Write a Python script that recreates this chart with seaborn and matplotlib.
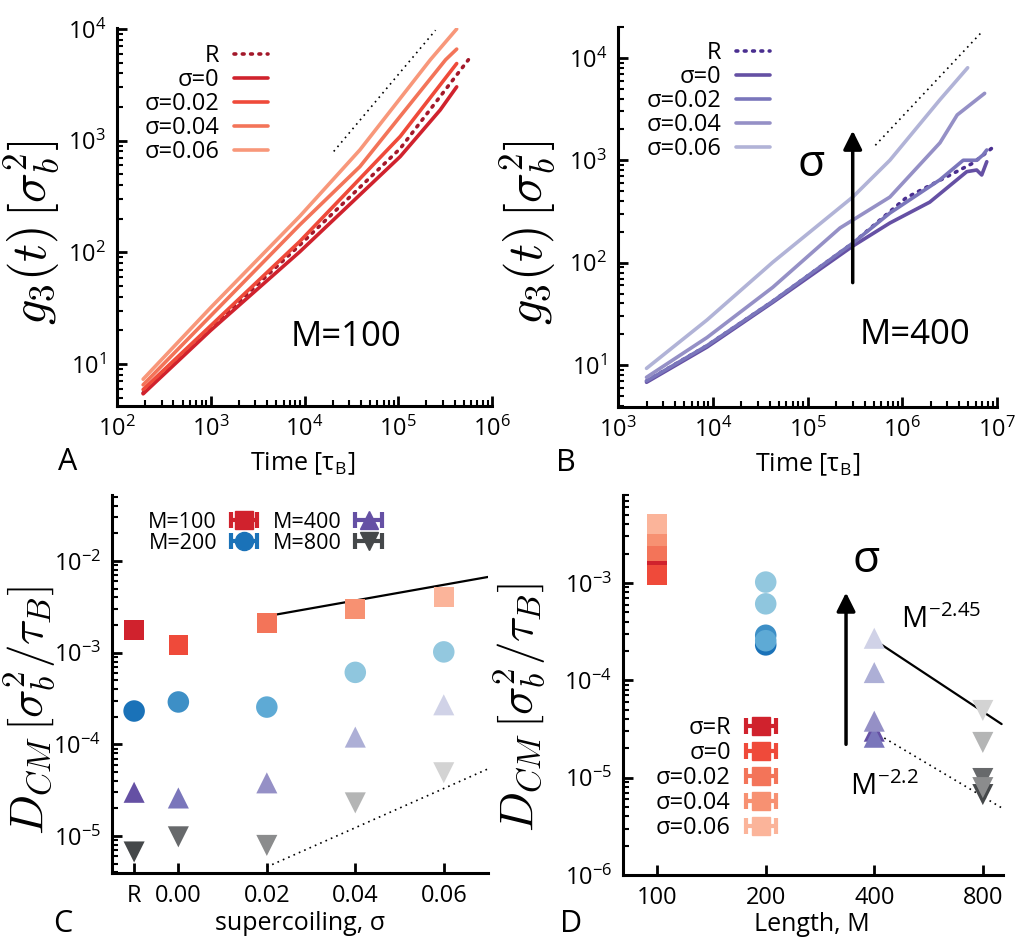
import numpy as np
import pandas as pd
import matplotlib
matplotlib.use("Agg")
import matplotlib.pyplot as plt
from matplotlib.ticker import FuncFormatter, LogLocator, NullLocator, FixedLocator
from matplotlib.legend_handler import HandlerErrorbar
from matplotlib.container import ErrorbarContainer
import seaborn as sns

# ---------------- data ----------------
sigma_labels = ["R", "0", "0.02", "0.04", "0.06"]

# Panel A (M=100): g3(t)
A_t_R = [190, 1e3, 8.9e3, 1.05e5, 5.6e5]
A_g_R = [5.5, 21, 116, 850, 5300]
A_t_0 = [190, 1e3, 8.9e3, 1.05e5, 2.8e5, 4.2e5]
A_g_0 = [5.4, 20, 101, 720, 1880, 3030]
A_t_002 = [190, 1e3, 8.9e3, 1.05e5, 4.2e5]
A_g_002 = [5.9, 22, 125, 1090, 4900]
A_t_004 = [190, 1e3, 8.9e3, 3.9e4, 1e5, 3.2e5, 4.2e5]
A_g_004 = [6.5, 27, 176, 585, 1570, 5300, 6600]
A_t_006 = [190, 1e3, 8.9e3, 3.9e4, 1e5, 2.2e5, 4.2e5]
A_g_006 = [7.3, 32, 210, 826, 2270, 5300, 10000]
A_guide_t = [2.05e4, 2.5e5]
A_guide_g = [800, 9750]

# Panel B (M=400): g3(t)
B_t_R = [2e3, 8.7e3, 4.3e4, 3e5, 1.1e6, 5.6e6, 8.9e6]
B_g_R = [7.0, 15.5, 42, 155, 430, 940, 1320]
B_t_0 = [2e3, 8.7e3, 4.3e4, 3e5, 7.4e5, 1.95e6, 4.8e6, 6.1e6, 6.9e6, 7.8e6]
B_g_0 = [6.8, 15, 41, 145, 244, 390, 774, 803, 718, 968]
B_t_002 = [2e3, 8.7e3, 4.3e4, 3e5, 7.4e5, 2.5e6, 4.4e6, 6.1e6, 7.1e6, 7.8e6]
B_g_002 = [7.0, 15.5, 42, 155, 305, 645, 1000, 1000, 1125, 1260]
B_t_004 = [2e3, 8.7e3, 4.3e4, 2.2e5, 7.4e5, 2.5e6, 3.8e6, 7.4e6]
B_g_004 = [7.6, 18.6, 57.5, 218, 437, 1480, 2770, 4500]
B_t_006 = [2e3, 8.7e3, 4.3e4, 3e5, 7.4e5, 2.5e6, 4.9e6]
B_g_006 = [9.3, 27.6, 101, 437, 1000, 3900, 8000]
B_guide_t = [5.2e5, 6.8e6]
B_guide_g = [1400, 17600]
B_arrow_t = 3e5
B_arrow_g = [60, 2070]

# Panels C, D: D_CM per sigma (R, 0, 0.02, 0.04, 0.06)
sigma_values = [-0.01, 0.0, 0.02, 0.04, 0.06]   # "R" drawn left of 0.00
sigma_ticklabels = ["R", "0.00", "0.02", "0.04", "0.06"]
M_values = [100, 200, 400, 800]
D_M100 = [1.77e-3, 1.21e-3, 2.1e-3, 3.0e-3, 4.05e-3]
D_M200 = [2.31e-4, 2.9e-4, 2.55e-4, 6.1e-4, 1.02e-3]
D_M400 = [3.0e-5, 2.6e-5, 3.8e-5, 1.2e-4, 2.7e-4]
D_M800 = [6.7e-6, 9.8e-6, 7.9e-6, 2.3e-5, 4.9e-5]
C_solid_x = [0.02, 0.07]
C_solid_y = [2.5e-3, 6.7e-3]
C_dot_x = [0.02, 0.07]
C_dot_y = [4.6e-6, 5.4e-5]
D_solid_M = [400, 902]
D_solid_y = [2.6e-4, 3.55e-5]
D_dot_M = [400, 902]
D_dot_y = [2.94e-5, 4.9e-6]
D_arrow_M = 334
D_arrow_y = [2.06e-5, 8.5e-4]

# ---------------- style ----------------
sns.set_theme(style="ticks")
plt.rcParams["font.family"] = ["Open Sans", "DejaVu Sans"]
plt.rcParams["mathtext.fontset"] = "cm"
for k in ["text.color", "axes.labelcolor", "xtick.color", "ytick.color", "axes.edgecolor"]:
    plt.rcParams[k] = "black"

reds_line = ["#a3182a", "#d0222d", "#ef4a3a", "#f37459", "#f8977a"]
purp_line = ["#4a2f90", "#6550a4", "#7a76bb", "#9590c6", "#b1b3d7"]
reds = ["#d0222d", "#ef4a3a", "#f37459", "#f79172", "#fbb49a"]
blues = ["#1a72b8", "#3d8fc6", "#5eaad5", "#8fc6de", "#93c8df"]
purples = ["#6550a4", "#7a76bb", "#9590c6", "#adafd6", "#d0d2e7"]
greys = ["#45484a", "#67696b", "#8b8c8d", "#b4b5b5", "#d3d3d3"]

TICK_FS = 17
LAB_FS = 18
YLAB_FS = 36
YLAB_FS_CD = 34
LEG_FS = 17

def logfmt(v, p):
    e = int(round(np.log10(v)))
    return r"$\mathregular{10^{%d}}$" % e

def style_axis(ax, logx=True):
    sns.despine(ax=ax)
    ax.tick_params(which="major", direction="in", length=7, width=2, labelsize=TICK_FS, pad=8)
    ax.tick_params(which="minor", direction="in", length=4, width=1.5)
    ax.yaxis.set_major_formatter(FuncFormatter(logfmt))
    ax.yaxis.set_minor_locator(LogLocator(base=10, subs=np.arange(2, 10)))
    if logx:
        ax.xaxis.set_major_formatter(FuncFormatter(logfmt))
        ax.xaxis.set_minor_locator(LogLocator(base=10, subs=np.arange(2, 10)))
    ax.grid(False)
    for s in ax.spines.values():
        s.set_linewidth(2.2)

fig = plt.figure(figsize=(10.21, 9.42), dpi=100)
axA = fig.add_axes([117/1021, 1-406/942, 375/1021, 378/942])
axB = fig.add_axes([618/1021, 1-407/942, 379/1021, 380/942])
axC = fig.add_axes([112/1021, 1-873/942, 376/1021, 378/942])
axD = fig.add_axes([623/1021, 1-875/942, 380/1021, 380/942])

dotted = (0, (0.5, 1.8))

def draw_curves(ax, series, colors):
    handles = []
    for i, (t, g, lab) in enumerate(series):
        ls = dotted if i == 0 else "-"
        sns.lineplot(x=t, y=g, ax=ax, color=colors[i], lw=2.6, linestyle=ls,
                     dash_capstyle="round", solid_capstyle="round",
                     estimator=None, sort=False, legend=False)
        handles.append(ax.lines[-1])
    return handles

# ---------------- Panel A ----------------
serA = [(A_t_R, A_g_R, "R"), (A_t_0, A_g_0, "σ=0"), (A_t_002, A_g_002, "σ=0.02"),
        (A_t_004, A_g_004, "σ=0.04"), (A_t_006, A_g_006, "σ=0.06")]
hA = draw_curves(axA, serA, reds_line)
sns.lineplot(x=A_guide_t, y=A_guide_g, ax=axA, color="black", lw=1.2, linestyle=(0, (1, 2.5)),
             estimator=None, legend=False)
axA.set_xscale("log"); axA.set_yscale("log")
axA.set_xlim(1e2, 1e6); axA.set_ylim(4.2, 1.02e4)
style_axis(axA)
axA.legend(hA, [s[2] for s in serA], loc="upper right", bbox_to_anchor=(0.403, 0.957),
           frameon=False, markerfirst=False, fontsize=LEG_FS, handlelength=1.45,
           labelspacing=0.0, handletextpad=0.6, borderpad=0, borderaxespad=0)
axA.text(2.76e4, 17.6, "M=100", fontsize=25, ha="center", va="center")
axA.set_ylabel(r"$g_3(t)\,[\sigma_b^2]$", fontsize=YLAB_FS)
axA.yaxis.set_label_coords(-0.147, 0.46)
axA.set_xlabel("Time [τ$_\\mathregular{B}$]", fontsize=LAB_FS)
axA.xaxis.set_label_coords(0.496, -0.118)

# ---------------- Panel B ----------------
serB = [(B_t_R, B_g_R, "R"), (B_t_0, B_g_0, "σ=0"), (B_t_002, B_g_002, "σ=0.02"),
        (B_t_004, B_g_004, "σ=0.04"), (B_t_006, B_g_006, "σ=0.06")]
hB = draw_curves(axB, serB, purp_line)
sns.lineplot(x=B_guide_t, y=B_guide_g, ax=axB, color="black", lw=1.2, linestyle=(0, (1, 2.5)),
             estimator=None, legend=False)
axB.set_xscale("log"); axB.set_yscale("log")
axB.set_xlim(1e3, 1e7); axB.set_ylim(3.9, 2.0e4)
style_axis(axB)
axB.legend(hB, [s[2] for s in serB], loc="upper right", bbox_to_anchor=(0.401, 0.962),
           frameon=False, markerfirst=False, fontsize=LEG_FS, handlelength=1.45,
           labelspacing=0.0, handletextpad=0.6, borderpad=0, borderaxespad=0)
axB.annotate("", xy=(B_arrow_t, B_arrow_g[1]), xytext=(B_arrow_t, B_arrow_g[0]),
             arrowprops=dict(arrowstyle="-|>", lw=2.5, color="black", mutation_scale=28))
axB.text(1.08e5, 900, "σ", fontsize=32, ha="center", va="center")
axB.text(1.35e6, 19.6, "M=400", fontsize=25, ha="center", va="center")
axB.set_ylabel(r"$g_3(t)\,[\sigma_b^2]$", fontsize=YLAB_FS)
axB.yaxis.set_label_coords(-0.158, 0.46)
axB.set_xlabel("Time [τ$_\\mathregular{B}$]", fontsize=LAB_FS)
axB.xaxis.set_label_coords(0.5, -0.118)

# ---------------- Panel C ----------------
groups = [(D_M100, reds, "s", 200, "M=100"), (D_M200, blues, "o", 240, "M=200"),
          (D_M400, purples, "^", 230, "M=400"), (D_M800, greys, "v", 230, "M=800")]
for vals, cols, mk, sz, lab in groups:
    df = pd.DataFrame({"sigma": sigma_values, "D": vals, "lab": sigma_labels})
    sns.scatterplot(data=df, x="sigma", y="D", hue="lab", hue_order=sigma_labels,
                    palette=dict(zip(sigma_labels, cols)), marker=mk, s=sz,
                    edgecolor="none", legend=False, ax=axC, zorder=3)
sns.lineplot(x=C_solid_x, y=C_solid_y, ax=axC, color="black", lw=1.6, estimator=None, legend=False)
sns.lineplot(x=C_dot_x, y=C_dot_y, ax=axC, color="black", lw=1.2, linestyle=(0, (1, 2.5)),
             estimator=None, legend=False)
axC.set_yscale("log")
axC.set_xlim(-0.015, 0.07); axC.set_ylim(3.95e-6, 5.25e-2)
style_axis(axC, logx=False)
axC.xaxis.set_major_locator(FixedLocator(sigma_values))
axC.set_xticklabels(sigma_ticklabels)
axC.xaxis.set_minor_locator(NullLocator())

emap = {ErrorbarContainer: HandlerErrorbar(xerr_size=0.62)}
hC = []
for vals, cols, mk, sz, lab in groups:
    h = axC.errorbar([np.nan], [np.nan], xerr=[1], fmt=mk, color=cols[0], ms=13,
                     capsize=6, elinewidth=3, capthick=3)
    hC.append(h)
axC.legend(hC, [g[4] for g in groups], ncol=2, loc="upper right", bbox_to_anchor=(0.726, 0.955),
           frameon=False, markerfirst=False, fontsize=15.5, handlelength=1.5,
           labelspacing=0.0, handletextpad=0.5, columnspacing=0.6,
           borderpad=0, borderaxespad=0, handler_map=emap)
axC.set_ylabel(r"$D_{CM}\,[\sigma_b^2/\tau_B]$", fontsize=YLAB_FS_CD)
axC.yaxis.set_label_coords(-0.145, 0.43)
axC.set_xlabel("supercoiling, σ", fontsize=LAB_FS)
axC.xaxis.set_label_coords(0.5, -0.1)

# ---------------- Panel D ----------------
for (vals, cols, mk, sz, lab), M in zip(groups, M_values):
    df = pd.DataFrame({"M": [M] * len(vals), "D": vals, "lab": sigma_labels})
    sns.scatterplot(data=df, x="M", y="D", hue="lab", hue_order=sigma_labels,
                    palette=dict(zip(sigma_labels, cols)), marker=mk, s=sz,
                    edgecolor="none", legend=False, ax=axD, zorder=3)
sns.lineplot(x=D_solid_M, y=D_solid_y, ax=axD, color="black", lw=1.6, estimator=None, legend=False)
sns.lineplot(x=D_dot_M, y=D_dot_y, ax=axD, color="black", lw=1.2, linestyle=(0, (1, 2.5)),
             estimator=None, legend=False)
axD.set_xscale("log"); axD.set_yscale("log")
axD.set_xlim(80.4, 910); axD.set_ylim(1e-6, 8e-3)
style_axis(axD, logx=False)
axD.xaxis.set_major_locator(FixedLocator(M_values))
axD.set_xticklabels([str(m) for m in M_values])
axD.xaxis.set_minor_locator(NullLocator())
hD = []
for i, lab in enumerate(sigma_labels):
    h = axD.errorbar([np.nan], [np.nan], xerr=[1], fmt="s", color=reds[i], ms=13,
                     capsize=6, elinewidth=3, capthick=3)
    hD.append(h)
axD.legend(hD, ["σ=" + s for s in sigma_labels], loc="upper right", bbox_to_anchor=(0.405, 0.418),
           frameon=False, markerfirst=False, fontsize=LEG_FS, handlelength=1.35,
           labelspacing=0.04, handletextpad=0.6, borderpad=0, borderaxespad=0, handler_map=emap)
axD.annotate("", xy=(D_arrow_M, D_arrow_y[1]), xytext=(D_arrow_M, D_arrow_y[0]),
             arrowprops=dict(arrowstyle="-|>", lw=2.5, color="black", mutation_scale=28))
axD.text(380, 1.7e-3, "σ", fontsize=32, ha="center", va="center")
axD.text(615, 4.2e-4, r"M$^{\mathregular{-2.45}}$", fontsize=21, ha="center", va="center")
axD.text(426, 8e-6, r"M$^{\mathregular{-2.2}}$", fontsize=21, ha="center", va="center")
axD.set_ylabel(r"$D_{CM}\,[\sigma_b^2/\tau_B]$", fontsize=YLAB_FS_CD)
axD.yaxis.set_label_coords(-0.2, 0.44)
axD.set_xlabel("Length, M", fontsize=LAB_FS)
axD.xaxis.set_label_coords(0.497, -0.097)

# panel letters
for lab, (px, py) in zip("ABCD", [(68, 462), (566, 463), (63, 924), (571, 924)]):
    fig.text(px / 1021, 1 - py / 942, lab, fontsize=22, ha="center", va="center")

fig.savefig("out.png", dpi=100)
